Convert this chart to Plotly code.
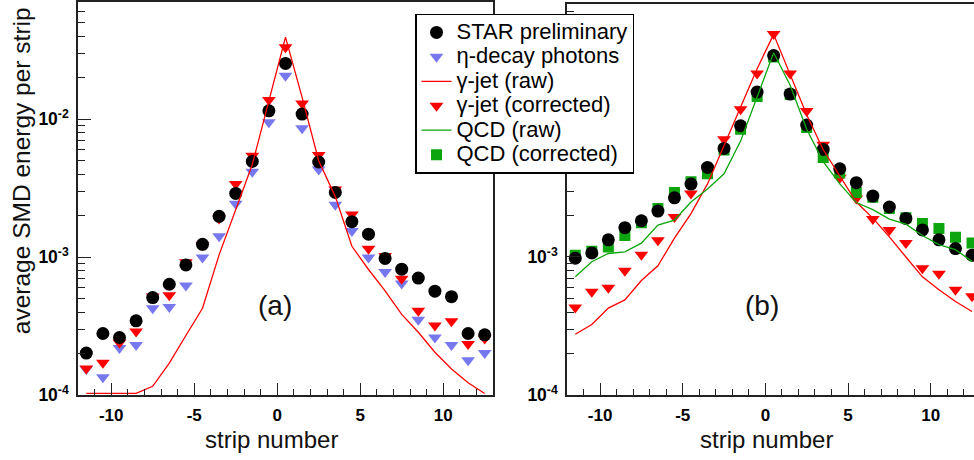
import plotly.graph_objects as go

# strip centres
strips = [-11.5, -10.5, -9.5, -8.5, -7.5, -6.5, -5.5, -4.5, -3.5, -2.5, -1.5, -0.5,
          0.5, 1.5, 2.5, 3.5, 4.5, 5.5, 6.5, 7.5, 8.5, 9.5, 10.5, 11.5, 12.5]

# ---- panel (a) ----
a_star = [2.02e-4, 2.8e-4, 2.62e-4, 3.46e-4, 5.1e-4, 6.37e-4, 8.8e-4, 1.24e-3, 1.98e-3,
          2.9e-3, 4.95e-3, 1.15e-2, 2.54e-2, 1.09e-2, 4.9e-3, 2.95e-3, 1.81e-3, 1.47e-3,
          9.8e-4, 8.2e-4, 7.06e-4, 5.68e-4, 5.18e-4, 2.8e-4, 2.74e-4]
a_eta = [1.55e-4, 1.35e-4, 2.2e-4, 2.31e-4, 4.27e-4, 4.35e-4, 6.25e-4, 9.95e-4, 1.42e-3,
         2.44e-3, 4.16e-3, 9.5e-3, 2.07e-2, 8.6e-3, 4.33e-3, 2.4e-3, 1.55e-3, 9.95e-4,
         7.8e-4, 6.44e-4, 3.53e-4, 2.62e-4, 2.31e-4, 1.79e-4, 2.02e-4]
a_gjet_corr = [1.56e-4, 1.72e-4, 2.4e-4, 2.89e-4, 5.2e-4, 5.3e-4, 9.2e-4, 1.22e-3, 1.91e-3,
               3.39e-3, 5.43e-3, 1.38e-2, 3.33e-2, 1.3e-2, 5.5e-3, 3.1e-3, 2.04e-3, 1.15e-3,
               1.02e-3, 6.98e-4, 4.09e-4, 3.2e-4, 3.44e-4, 2.35e-4, 2.58e-4]
a_gjet_raw = [1.03e-4, 1.03e-4, 1.03e-4, 1.03e-4, 1.16e-4, 1.71e-4, 2.71e-4, 4.27e-4, 1.04e-3,
              2.24e-3, 4.7e-3, 1.36e-2, 3.94e-2, 1.44e-2, 5.0e-3, 2.75e-3, 1.2e-3, 8.15e-4,
              5.71e-4, 3.85e-4, 2.86e-4, 2.05e-4, 1.55e-4, 1.23e-4, 1.03e-4]

# ---- panel (b) ----
b_star = [9.8e-4, 1.07e-3, 1.33e-3, 1.63e-3, 1.83e-3, 2.15e-3, 2.68e-3, 3.37e-3, 4.45e-3,
          6.1e-3, 8.9e-3, 1.56e-2, 2.87e-2, 1.51e-2, 9.0e-3, 6.0e-3, 4.35e-3, 3.45e-3,
          2.76e-3, 2.3e-3, 1.9e-3, 1.57e-3, 1.33e-3, 1.15e-3, 1.03e-3]
b_gjet_corr = [4.31e-4, 5.6e-4, 6.0e-4, 7.96e-4, 1.04e-3, 1.32e-3, 1.95e-3, 2.88e-3, 4.4e-3,
               7.1e-3, 1.17e-2, 2.13e-2, 4.1e-2, 2.13e-2, 1.14e-2, 6.5e-3, 3.74e-3, 2.65e-3,
               1.88e-3, 1.57e-3, 1.26e-3, 8.3e-4, 7.55e-4, 5.8e-4, 5.2e-4]
b_gjet_raw = [2.76e-4, 3.25e-4, 4.27e-4, 4.89e-4, 6.76e-4, 8.63e-4, 1.37e-3, 2.06e-3, 3.38e-3,
              6.4e-3, 1.22e-2, 2.3e-2, 4.08e-2, 2.09e-2, 1.07e-2, 5.97e-3, 3.85e-3, 2.5e-3,
              1.91e-3, 1.4e-3, 1.0e-3, 7.18e-4, 5.8e-4, 4.77e-4, 4.03e-4]
b_qcd_corr = [1.03e-3, 1.1e-3, 1.18e-3, 1.43e-3, 1.77e-3, 2.24e-3, 2.93e-3, 3.5e-3, 4.0e-3,
              5.94e-3, 8.4e-3, 1.45e-2, 2.8e-2, 1.5e-2, 8.65e-3, 5.25e-3, 4.05e-3, 2.93e-3,
              2.7e-3, 2.24e-3, 1.92e-3, 1.75e-3, 1.61e-3, 1.39e-3, 1.26e-3]
b_qcd_raw = [7.2e-4, 9.25e-4, 1.06e-3, 1.09e-3, 1.26e-3, 1.7e-3, 1.85e-3, 2.5e-3, 3.1e-3,
             4.0e-3, 6.9e-3, 1.42e-2, 3.0e-2, 1.75e-2, 8.4e-3, 4.9e-3, 3.38e-3, 2.48e-3,
             2.2e-3, 1.88e-3, 1.73e-3, 1.43e-3, 1.23e-3, 1.13e-3, 9.3e-4]

# ticks
x_ticks = [-10, -5, 0, 5, 10]
x_ticktext = ["-10", "-5", "0", "5", "10"]
ya_ticks = [1e-4, 1e-3, 1e-2]
ya_ticktext = ["10<sup>-4</sup>", "10<sup>-3</sup>", "10<sup>-2</sup>"]
# panel (b): the 10^-2 label sits under the legend in the original
yb_ticks = [1e-4, 1e-3]
yb_ticktext = ["10<sup>-4</sup>", "10<sup>-3</sup>"]
y_minor = [2e-4, 3e-4, 4e-4, 5e-4, 6e-4, 7e-4, 8e-4, 9e-4,
           2e-3, 3e-3, 4e-3, 5e-3, 6e-3, 7e-3, 8e-3, 9e-3,
           2e-2, 3e-2, 4e-2, 5e-2, 6e-2, 7e-2, 8e-2, 9e-2]

FONT = "Liberation Sans, Arial, Helvetica, sans-serif"
BLACK = "#000000"
BLUE = "#7878ee"
RED = "#ff0000"
GREEN = "#0da50d"
LEG = '<span style="font-size:22px">%s</span>'

fig = go.Figure()

def pts(x, y, xa, ya, name, sym, col, size, group, rank, show):
    fig.add_trace(go.Scatter(x=x, y=y, xaxis=xa, yaxis=ya, mode="markers",
                             marker=dict(symbol=sym, color=col, size=size),
                             name=LEG % name, legendgroup=group, legendrank=rank,
                             showlegend=show))

def line(x, y, xa, ya, name, col, group, rank, show):
    fig.add_trace(go.Scatter(x=x, y=y, xaxis=xa, yaxis=ya, mode="lines",
                             line=dict(color=col, width=1.3),
                             name=LEG % name, legendgroup=group, legendrank=rank,
                             showlegend=show))

# panel (a)
pts(strips, a_eta, "x", "y", "η-decay photons", "triangle-down", BLUE, 12, "eta", 2, True)
pts(strips, a_gjet_corr, "x", "y", "γ-jet (corrected)", "triangle-down", RED, 12, "gc", 4, True)
pts(strips, a_star, "x", "y", "STAR preliminary", "circle", BLACK, 13, "star", 1, True)
line(strips, a_gjet_raw, "x", "y", "γ-jet (raw)", RED, "gr", 3, True)

# panel (b)
pts(strips, b_gjet_corr, "x2", "y2", "γ-jet (corrected)", "triangle-down", RED, 12, "gc", 4, False)
pts(strips, b_qcd_corr, "x2", "y2", "QCD (corrected)", "square", GREEN, 11, "qc", 6, True)
pts(strips, b_star, "x2", "y2", "STAR preliminary", "circle", BLACK, 13, "star", 1, False)
line(strips, b_gjet_raw, "x2", "y2", "γ-jet (raw)", RED, "gr", 3, False)
line(strips, b_qcd_raw, "x2", "y2", "QCD (raw)", GREEN, "qr", 5, True)

W, H = 974, 460
AXC = "#222222"

def xax(domain, rng, anchor, mirror):
    return dict(domain=domain, range=rng, anchor=anchor, showline=True, linecolor=AXC,
                linewidth=1.5, mirror=mirror, ticks="inside", ticklen=12, tickwidth=1.2,
                tickcolor=AXC, tickmode="array", tickvals=x_ticks, ticktext=x_ticktext,
                ticklabelstandoff=4,
                minor=dict(dtick=1, tick0=0, ticks="inside", ticklen=6, tickwidth=1.2,
                           tickcolor=AXC, showgrid=False),
                showgrid=False, zeroline=False,
                tickfont=dict(family=FONT, size=17, color=BLACK, weight="bold"))

def yax(domain, rng, anchor, mirror, tv, tt):
    return dict(domain=domain, type="log", range=rng, anchor=anchor, showline=True,
                linecolor=AXC, linewidth=1.5, mirror=mirror, ticks="inside", ticklen=13,
                tickwidth=1.2, tickcolor=AXC, tickmode="array", tickvals=tv,
                ticktext=tt, ticklabelstandoff=4,
                minor=dict(tickmode="array", tickvals=y_minor, ticks="inside", ticklen=7,
                           tickwidth=1.2, tickcolor=AXC, showgrid=False),
                showgrid=False, zeroline=False,
                tickfont=dict(family=FONT, size=17.5, color=BLACK, weight="bold"))

fig.update_layout(
    width=W, height=H, margin=dict(l=0, r=0, t=0, b=0),
    paper_bgcolor="white", plot_bgcolor="white",
    xaxis=xax([78 / W, 493 / W], [-12, 13], "y", True),
    yaxis=yax([1 - 404 / H, 1 - 2 / H], [-4, -1.15], "x", True, ya_ticks, ya_ticktext),
    xaxis2=xax([567 / W, 1.0], [-12, 12.62], "y2", True),
    yaxis2=yax([1 - 404 / H, 1 - 4 / H], [-4, -1.169], "x2", False, yb_ticks, yb_ticktext),
    showlegend=True,
    legend=dict(x=415 / W, y=1 - 14 / H, xanchor="left", yanchor="top",
                bgcolor="white", bordercolor=BLACK, borderwidth=1.5,
                font=dict(family=FONT, size=16.5, color=BLACK),
                traceorder="normal"),
    font=dict(family=FONT, color=BLACK),
)

ann = [
    dict(text="strip number", x=271 / W, y=1 - 449 / H, size=24, angle=0),
    dict(text="strip number", x=766 / W, y=1 - 449 / H, size=24, angle=0),
    dict(text="average SMD energy per strip", x=21 / W, y=1 - 175 / H, size=24.5, angle=-90),
    dict(text="(a)", x=275 / W, y=1 - 312 / H, size=28, angle=0),
    dict(text="(b)", x=762 / W, y=1 - 312 / H, size=28, angle=0),
]
for a in ann:
    fig.add_annotation(text=a["text"], x=a["x"], y=a["y"], xref="paper", yref="paper",
                       xanchor="center", yanchor="middle", showarrow=False,
                       textangle=a["angle"], borderpad=0,
                       font=dict(family=FONT, size=a["size"], color="#111111"))

fig.write_html("out.html")
